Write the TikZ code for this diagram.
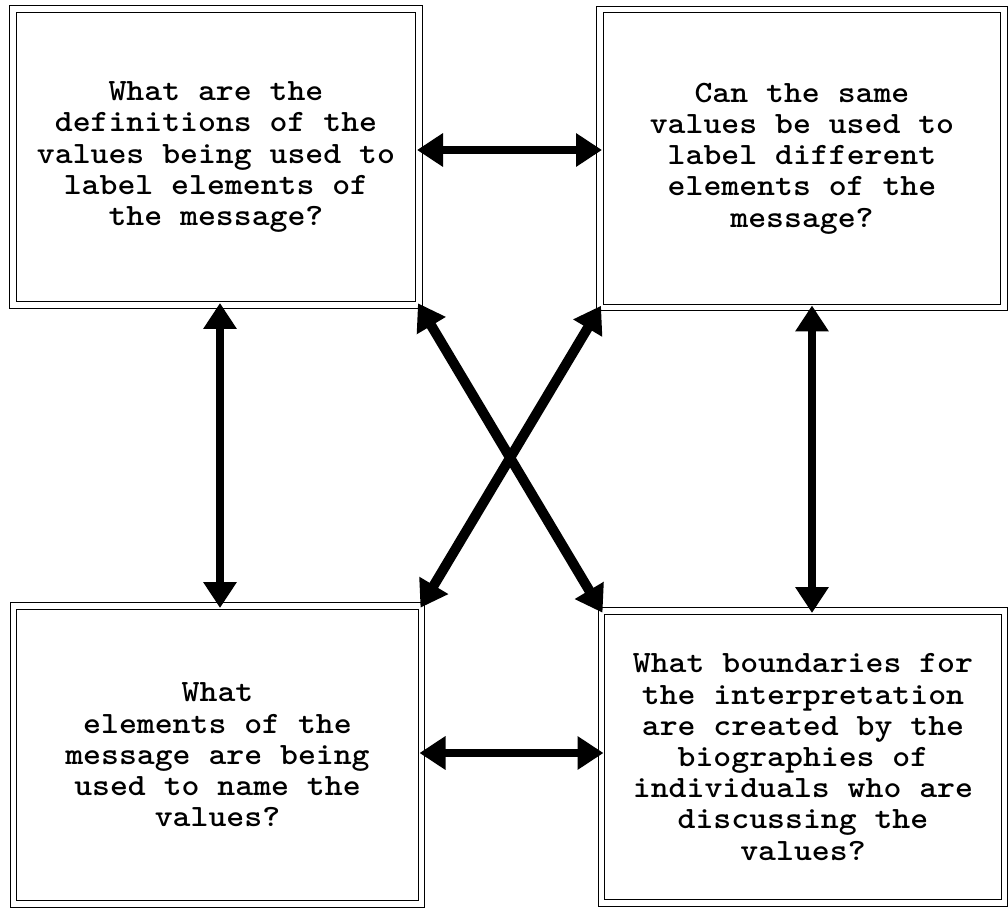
\documentclass[tikz,border=0pt]{standalone}
\usepackage{fontspec}
\newfontfamily\boxfont{lmmonolt10-bold}[Extension=.otf,FakeStretch=1.1]
\usetikzlibrary{arrows.meta}
\begin{document}
\begin{tikzpicture}[x=0.5pt,y=-0.5pt,
        qbox/.style={draw,double,double distance=2.6pt,line width=0.5pt,
            inner sep=0pt,outer sep=0pt,align=center,
            font=\boxfont\fontsize{15.5}{15.6}\selectfont},
        link/.style={{Triangle[length=13pt,width=16pt]}-{Triangle[length=13pt,width=16pt]},
            line width=4pt,shorten <=-1pt,shorten >=-1pt}]
    \useasboundingbox (0,0) rectangle (1008,909);
    \node[qbox,minimum width=203pt,minimum height=148pt] (tl) at (216,157)
        {What are the\\definitions of the\\values being used to\\label elements of\\the message?};
    \node[qbox,minimum width=202pt,minimum height=149pt] (tr) at (802,158.5)
        {Can the same\\values be used to\\label different\\elements of the\\message?};
    \node[qbox,minimum width=204pt,minimum height=149pt] (bl) at (217.5,755)
        {What\\elements of the\\message are being\\used to name the\\values?};
    \node[qbox,minimum width=201.5pt,minimum height=146pt] (br) at (803,757)
        {What boundaries for\\the interpretation\\are created by the\\biographies of\\individuals who are\\discussing the\\values?};
    % horizontal links
    \draw[link] ([yshift=3.5pt]tl.east) -- ([yshift=4.25pt]tr.west);
    \draw[link] ([yshift=1pt]bl.east) -- ([yshift=2pt]br.west);
    % vertical links
    \draw[link] ([xshift=2pt]tl.south) -- ([xshift=1.25pt]bl.north);
    \draw[link] ([xshift=5pt]tr.south) -- ([xshift=4.5pt]br.north);
    % crossing links
    \draw[link,line width=5pt] (tl.south east) -- (br.north west);
    \draw[link,line width=5pt] (tr.south west) -- (bl.north east);
\end{tikzpicture}
\end{document}
